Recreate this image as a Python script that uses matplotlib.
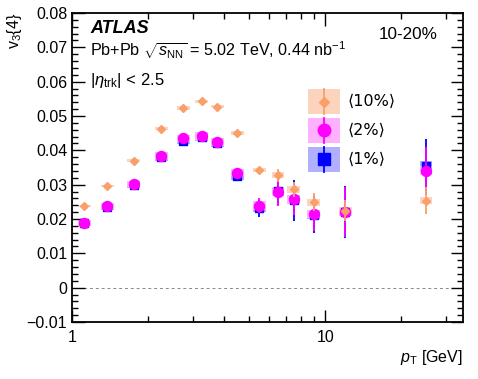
import numpy as np
import matplotlib
matplotlib.use("Agg")
import matplotlib.pyplot as plt
from matplotlib.ticker import FixedLocator, FuncFormatter, MultipleLocator, NullFormatter
from matplotlib.patches import Rectangle

plt.rcParams['font.family'] = ['Liberation Sans', 'DejaVu Sans']
plt.rcParams['mathtext.fontset'] = 'custom'
plt.rcParams['mathtext.rm'] = 'Liberation Sans'
plt.rcParams['mathtext.it'] = 'Liberation Sans:italic'
plt.rcParams['mathtext.bf'] = 'Liberation Sans:bold'

# data
pt = [1.12, 1.38, 1.75, 2.25, 2.75, 3.25, 3.75, 4.5, 5.5, 6.5, 7.5, 9.0, 12.0, 25.0]

v10 = [0.0238, 0.0296, 0.0370, 0.0463, 0.0523, 0.0543, 0.0527, 0.0451, 0.0343, 0.0328, 0.0287, 0.0249, 0.0224, 0.0253]
v10_stat = [0.0002, 0.0002, 0.0002, 0.0003, 0.0003, 0.0003, 0.0003, 0.0004, 0.0006, 0.0019, 0.0022, 0.0026, 0.0030, 0.0039]
v10_sys = [0.0004, 0.0004, 0.0004, 0.0004, 0.0005, 0.0005, 0.0005, 0.0005, 0.0006, 0.0010, 0.0010, 0.0010, 0.0010, 0.0010]

v2 = [0.0189, 0.0238, 0.0301, 0.0384, 0.0435, 0.0442, 0.0425, 0.0335, 0.0239, 0.0280, 0.0257, 0.0214, 0.0221, 0.0341]
v2_stat = [0.0003, 0.0003, 0.0003, 0.0003, 0.0004, 0.0004, 0.0004, 0.0005, 0.0022, 0.0042, 0.0045, 0.0050, 0.0072, 0.0070]
v2_sys = [0.0008, 0.0008, 0.0009, 0.0010, 0.0011, 0.0011, 0.0011, 0.0011, 0.0012, 0.0012, 0.0012, 0.0012, 0.0012, 0.0014]

v1 = [0.0187, 0.0235, 0.0298, 0.0380, 0.0428, 0.0438, 0.0420, 0.0326, 0.0231, 0.0282, 0.0255, 0.0213, 0.0220, 0.0354]
v1_stat = [0.0003, 0.0003, 0.0003, 0.0004, 0.0004, 0.0005, 0.0005, 0.0006, 0.0025, 0.0040, 0.0060, 0.0055, 0.0075, 0.0080]
v1_sys = [0.0008, 0.0008, 0.0009, 0.0010, 0.0011, 0.0011, 0.0011, 0.0011, 0.0012, 0.0012, 0.0012, 0.0012, 0.0012, 0.0014]

labels = ["\u27e810%\u27e9", "\u27e82%\u27e9", "\u27e81%\u27e9"]

c10, c10b = "#F9A06A", "#FCD3BD"
c2, c2b = "#FF00FF", "#FFB0FF"
c1, c1b = "#0000FF", "#B0B0FF"

fig = plt.figure(figsize=(4.78, 3.79), dpi=100)
ax = fig.add_axes([0.1506, 0.1504, 0.818, 0.8153])
ax.set_xscale('log')

hw = 0.025  # half box width in decades


def sysboxes(x, y, s, col, z):
    x = np.array(x); y = np.array(y); s = np.array(s)
    left = x * 10**(-hw)
    w = x * (10**hw - 10**(-hw))
    ax.bar(left, 2 * s, width=w, bottom=y - s, align='edge', color=col, lw=0, zorder=z)


sysboxes(pt, v1, v1_sys, c1b, 1)
sysboxes(pt, v2, v2_sys, c2b, 1.1)
sysboxes(pt, v10, v10_sys, c10b, 1.2)

ax.errorbar(pt, v1, yerr=v1_stat, fmt='s', color=c1, ms=6.2, elinewidth=1.3, capsize=0, zorder=3)
ax.errorbar(pt, v2, yerr=v2_stat, fmt='o', color=c2, ms=7.2, elinewidth=1.3, capsize=0, zorder=4)
ax.errorbar(pt, v10, yerr=v10_stat, fmt='D', color=c10, ms=3.8, elinewidth=1.3, capsize=0, zorder=5)

ax.axhline(0, color='#888888', ls=(0, (3, 3)), lw=0.7, zorder=0.5)

ax.set_xlim(1, 35)
ax.set_ylim(-0.01, 0.08)

ax.xaxis.set_major_locator(FixedLocator([1, 10]))
ax.xaxis.set_major_formatter(FuncFormatter(lambda v, p: "%g" % v))
ax.xaxis.set_minor_locator(FixedLocator([2, 3, 4, 5, 6, 7, 8, 9, 20, 30]))
ax.xaxis.set_minor_formatter(NullFormatter())
ax.yaxis.set_major_locator(MultipleLocator(0.01))
ax.yaxis.set_minor_locator(MultipleLocator(0.002))
ax.yaxis.set_major_formatter(FuncFormatter(lambda v, p: ("%g" % round(v, 3)).replace('-', '\u2212')))

ax.tick_params(which='both', direction='in', top=True, right=True, labelsize=11.5, width=1.0)
ax.tick_params(which='major', length=9)
ax.tick_params(which='minor', length=4.5)
ax.tick_params(axis='x', pad=6)
for sp in ax.spines.values():
    sp.set_linewidth(1.3)

ax.set_ylabel(r'v$_3${4}', fontsize=11.5, loc='top', labelpad=2)
ax.set_xlabel(r'$p_\mathrm{T}$ [GeV]', fontsize=11.5, loc='right', labelpad=2)

ax.text(0.046, 0.951, 'ATLAS', transform=ax.transAxes, fontsize=13, fontweight='bold',
        style='italic', va='center')
ax.text(0.046, 0.88, r'Pb+Pb $\sqrt{s_\mathrm{NN}}$ = 5.02 TeV, 0.44 nb$^{-1}$',
        transform=ax.transAxes, fontsize=11.6, va='center')
ax.text(0.046, 0.783, r'|$\eta_\mathrm{trk}$| < 2.5', transform=ax.transAxes, fontsize=12, va='center')
ax.text(0.934, 0.929, '10-20%', transform=ax.transAxes, fontsize=12.3, va='center', ha='right')

# legend drawn by hand
leg = [(c10, c10b, 'D', 5.5, 0.713), (c2, c2b, 'o', 9, 0.620), (c1, c1b, 's', 8, 0.527)]
for (c, cb, m, ms, yc), lab in zip(leg, labels):
    ax.add_patch(Rectangle((0.604, yc - 0.040), 0.081, 0.080, transform=ax.transAxes,
                           color=cb, lw=0, zorder=6))
    ax.plot([0.6445, 0.6445], [yc - 0.040, yc + 0.040], transform=ax.transAxes, color=c, lw=1.3, zorder=7)
    ax.plot([0.6445], [yc], transform=ax.transAxes, marker=m, color=c, ms=ms, zorder=8)
    ax.text(0.706, yc, lab, transform=ax.transAxes, fontsize=11.5, va='center',
            family=['DejaVu Sans'])

fig.savefig('out.png', dpi=100)
